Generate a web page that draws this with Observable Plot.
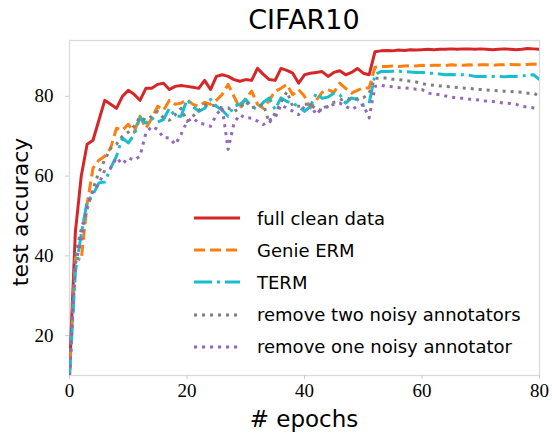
<!DOCTYPE html>
<html><head><meta charset="utf-8">
<script src="https://cdn.jsdelivr.net/npm/d3@7"></script>
<script src="https://cdn.jsdelivr.net/npm/@observablehq/plot@0.6"></script>
<style>
body{margin:0;background:#fff;}
#wrap{position:relative;width:552px;height:436px;overflow:hidden;font-family:"DejaVu Sans",sans-serif;background:#fff;}
#wrap svg.plot{position:absolute;left:0;top:0;}
.t{position:absolute;white-space:nowrap;color:#000;line-height:1;}
.leg{position:absolute;left:193px;top:202px;}
.row{display:flex;align-items:center;height:32.2px;}
.row span{font-size:18px;margin-left:16px;}
</style></head><body><div id="wrap"></div>
<script>
const seriesNames = ["full clean data", "Genie ERM", "TERM", "remove two noisy annotators", "remove one noisy annotator"];
const seriesColors = ["#d62728", "#ff7f0e", "#17becf", "#7f7f7f", "#9467bd"];
const seriesDash = [null, "11,5", "18,5,3,5", "3,5", "3,5"];
const xTicks = [0, 20, 40, 60, 80];
const yTicks = [20, 40, 60, 80];

const fullClean = [11,46,60,68,69,74,79,78,77,80,81.5,80.5,79,82,82,83,83.3,81.7,82.5,82.7,82.5,82.3,82,84,81.7,85,85.4,85,84.2,83.8,84.2,84,87,85.5,84.2,84,87,86.5,85.8,83.3,85.4,85.8,86,86.2,85,86,86.4,85.4,86,87,85.8,85.4,91.2,91.4,91.5,91.4,91.6,91.5,91.7,91.6,91.7,91.8,91.7,91.8,91.8,91.9,91.8,91.9,91.9,91.8,91.9,91.8,91.7,91.8,91.9,91.8,91.7,91.8,92,91.9,91.8];
const genieERM = [10,39.5,39,53,62,64,65,67,72,71.5,73,71,75,72,74.5,77.5,76.5,79,78,78.3,79.2,78,77.5,78.5,78,79,80.5,83,80,77,79.5,81.3,78,77,79,81.3,82,83,80.4,81.7,80,77.1,79,81,81.7,81,83.3,82,80.8,81.5,82.1,82.1,87.3,87.5,87.5,87.6,87.5,87.6,87.7,87.6,87.8,87.7,87.8,87.8,87.7,87.9,87.8,87.8,87.9,87.8,87.9,87.9,87.8,87.9,87.9,88,87.9,87.9,88,88.1,88];
const term = [10,36,45.5,53.5,55.4,58.3,58.5,62,65,69.6,68.3,70.4,74.6,73.3,74.6,73.5,74.2,77,75,75,79.2,77.5,76.2,77,79.2,77.5,76.5,75,77.5,78,79.2,77.5,76.7,78.5,79.6,76.7,79.6,78.7,78.2,77.5,76.2,77.5,80.8,79.5,79.8,80.8,80.4,78.3,79.6,79.2,77.7,78.3,85.5,86.2,86.2,86.3,86.3,86.2,86.1,86,86,85.8,85.8,85.6,85.4,85.5,85.4,85.4,85.3,85,85,85,85,85,84.9,85,85,85.1,85.3,85.4,84.2];
const removeTwo = [10,40,46.7,51.7,56.7,61,64,67,68,70,71,72.5,74.8,74,75,76.2,74.6,74,75.4,77,73.7,75,76.5,77.8,77.9,77.5,77.1,77.1,76.2,77,78.7,77.1,77.5,78,73.3,75.8,78.5,81.2,77.5,77.5,78,78,76.7,76.5,77.5,78.5,79,79.6,79.2,79.4,79.6,80.8,84.5,84.6,84.6,84.3,84.2,84,83.8,83.6,83.2,82.9,82.8,82.6,82.5,82.4,82.2,82.1,82,81.8,81.7,81.6,81.5,81.4,81.3,81.2,81.1,81,80.8,80.8,80];
const removeOne = [10,38,44,52.5,56.2,58,61.5,62,64.6,63,64.6,64,65,70.8,72.5,71.7,69.6,69.6,67.9,70.5,73.7,74.6,73.3,73,72.5,75.4,77.1,66.7,73.3,75.4,74.5,74.6,73.8,72.9,74,74.6,77.9,77,76.3,75.4,77.5,77.9,75.4,77.1,77.5,78,78.3,77.5,76.7,77.5,77.9,74.6,82.5,82.8,82.5,82.4,82.2,82.1,82,81.8,81.7,80.8,80.6,80.4,80.1,79.8,79.6,79.5,79.3,79.2,79,78.8,78.7,78.5,78.3,78.2,78,77.5,77.3,77.1,76.9];

const seriesValues = [fullClean, genieERM, term, removeTwo, removeOne];

const lineMarks = seriesValues.map((vals, k) => Plot.line(vals.map((v, i) => ({epoch: i, acc: v})), {
  x: "epoch", y: "acc", stroke: seriesColors[k], strokeWidth: 3,
  strokeDasharray: seriesDash[k], strokeLinejoin: "round",
  strokeLinecap: seriesDash[k] ? "butt" : "round", clip: true
}));

const chart = Plot.plot({
  width: 552, height: 436,
  marginLeft: 69, marginRight: 13, marginTop: 40, marginBottom: 61,
  x: {domain: [0, 80]},
  y: {domain: [10, 94]},
  style: {background: "white", fontFamily: "'Liberation Serif', serif", fontSize: "19px", color: "black", overflow: "visible"},
  marks: [
    Plot.frame({stroke: "#dadada", strokeWidth: 1.3}),
    Plot.axisX({ticks: xTicks, tickSize: 4, stroke: "#cccccc", fill: "black", tickPadding: 4, label: null, fontSize: 19}),
    Plot.axisY({ticks: yTicks, tickSize: 4, stroke: "#cccccc", fill: "black", tickPadding: 12, label: null, fontSize: 19}),
    ...lineMarks
  ]
});
chart.classList.add("plot");
const wrap = document.getElementById("wrap");
wrap.appendChild(chart);

function addText(txt, css) {
  const d = document.createElement("div");
  d.className = "t";
  d.textContent = txt;
  Object.assign(d.style, css);
  wrap.appendChild(d);
  return d;
}
addText("CIFAR10", {left: "204px", top: "6px", width: "200px", textAlign: "center", fontSize: "27px"});
addText("# epochs", {left: "204px", top: "408px", width: "200px", textAlign: "center", fontSize: "23px"});
const yl = addText("test accuracy", {width: "200px", textAlign: "center", fontSize: "22px", transform: "rotate(-90deg)"});
yl.style.left = (21 - 100) + "px";
yl.style.top = (212 - 11) + "px";

const leg = document.createElement("div");
leg.className = "leg";
seriesNames.forEach((name, k) => {
  const row = document.createElement("div");
  row.className = "row";
  const svg = d3.create("svg").attr("width", 48).attr("height", 10);
  svg.append("line").attr("x1", 1).attr("x2", 47).attr("y1", 5).attr("y2", 5)
    .attr("stroke", seriesColors[k]).attr("stroke-width", 3)
    .attr("stroke-dasharray", seriesDash[k])
    .attr("stroke-linecap", "butt");
  row.appendChild(svg.node());
  const s = document.createElement("span");
  s.textContent = name;
  row.appendChild(s);
  leg.appendChild(row);
});
wrap.appendChild(leg);
</script>
</body></html>
